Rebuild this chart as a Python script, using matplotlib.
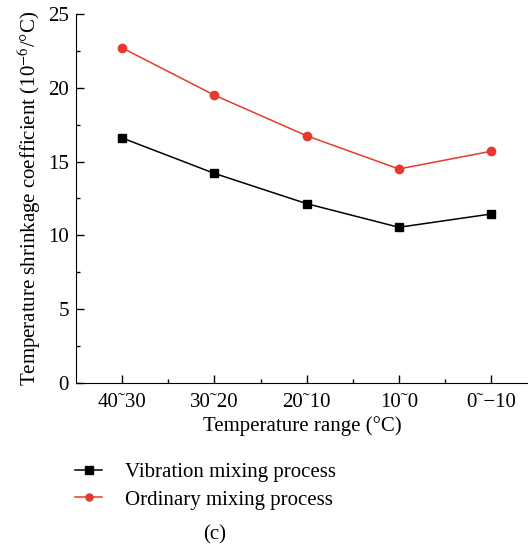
import numpy as np
import matplotlib
matplotlib.use("Agg")
import matplotlib.pyplot as plt
from matplotlib.ticker import MultipleLocator, FixedLocator

plt.rcParams['font.family'] = ['Liberation Serif', 'DejaVu Serif']
plt.rcParams['mathtext.fontset'] = 'stix'

# data
ranges = ["40˜30", "30˜20", "20˜10", "10˜0", "0˜−10"]
vibration = [16.6, 14.2, 12.15, 10.55, 11.45]
ordinary = [22.7, 19.5, 16.75, 14.5, 15.7]

fig = plt.figure(figsize=(5.28, 5.5), dpi=100)
ax = fig.add_axes([0.144, 0.3036, 0.856, 0.671])

x = np.arange(len(ranges))
l1, = ax.plot(x, vibration, color='black', lw=1.1, marker='s', ms=6,
              label='Vibration mixing process')
l2, = ax.plot(x, ordinary, color='#e8392f', lw=1.1, marker='o', ms=6,
              label='Ordinary mixing process')

ax.set_xlim(-0.5, 4.4)
ax.set_ylim(0, 25)
ax.set_xticks(x)
ax.set_xticklabels(ranges)
ax.xaxis.set_minor_locator(FixedLocator([0.5, 1.5, 2.5, 3.5]))
ax.yaxis.set_major_locator(MultipleLocator(5))
ax.yaxis.set_minor_locator(MultipleLocator(2.5))
ax.tick_params(which='both', direction='in', labelsize=15)
ax.tick_params(which='major', length=6, width=1)
ax.tick_params(which='minor', length=3, width=1)
ax.tick_params(axis='x', pad=7)
ax.tick_params(axis='y', pad=5)
for s in ['top', 'right']:
    ax.spines[s].set_visible(False)

ax.set_xlabel('Temperature range (°C)', fontsize=15, labelpad=3)
ax.set_ylabel('Temperature shrinkage coefficient (10$^{-6}$/°C)', fontsize=15, labelpad=4)

fig.legend(handles=[l1, l2], loc='upper left', bbox_to_anchor=(0.142, 0.159),
           frameon=False, fontsize=15, handlelength=1.3, labelspacing=0.38,
           handletextpad=1.1, markerscale=0.85, borderpad=0, borderaxespad=0)
fig.text(0.407, 0.027, '(c)', fontsize=15, ha='center', va='center')

fig.savefig('out.png', dpi=100)
